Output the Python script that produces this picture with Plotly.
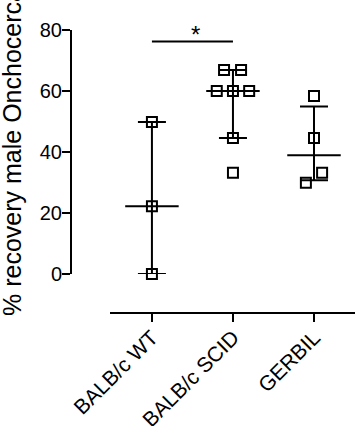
import plotly.graph_objects as go

# ---- data ----
groups = ["BALB/c WT", "BALB/c SCID", "GERBIL"]
wt_vals = [49.8, 22.2, 0.0]
scid_vals = [66.9, 66.9, 60.0, 60.0, 60.0, 44.6, 33.2]
gerbil_vals = [58.4, 44.6, 33.2, 29.9]
medians = [22.2, 60.0, 38.9]
q1 = [0.0, 44.6, 30.7]
q3 = [49.8, 66.9, 54.9]
y_ticks = [0, 20, 40, 60, 80]
sig_y = 76.2
y_title = "% recovery male Onchocerca"

# horizontal scatter (jitter) offsets seen in the picture, in category units
wt_dx = [0, 0, 0]
scid_dx = [-0.11, 0.1, -0.2, 0, 0.2, 0, 0]
gerbil_dx = [0, 0, 0.1, -0.1]

FONT = "Liberation Sans, Arial, Helvetica, sans-serif"
fig = go.Figure()

for i, (vals, dxs) in enumerate([(wt_vals, wt_dx), (scid_vals, scid_dx), (gerbil_vals, gerbil_dx)]):
    fig.add_trace(go.Scatter(
        x=[i + d for d in dxs], y=vals, mode="markers",
        marker=dict(symbol="square-open", size=10, color="black", line=dict(width=2, color="black")),
        cliponaxis=False, showlegend=False, hoverinfo="skip"))

fig.add_trace(go.Scatter(
    x=list(range(len(groups))), y=medians, mode="markers",
    marker=dict(size=1, color="rgba(0,0,0,0)"),
    error_y=dict(type="data", symmetric=False,
                 array=[h - m for h, m in zip(q3, medians)],
                 arrayminus=[m - l for m, l in zip(medians, q1)],
                 width=14, thickness=2, color="black"),
    error_x=dict(type="data", array=[0.33] * len(groups), width=0, thickness=2, color="black"),
    cliponaxis=False, showlegend=False, hoverinfo="skip"))

fig.add_shape(type="line", xref="x", yref="y", x0=0, x1=1, y0=sig_y, y1=sig_y,
              line=dict(color="black", width=2))
fig.add_annotation(x=0.54, y=78.6, xref="x", yref="y", text="*", showarrow=False,
                   font=dict(family=FONT, size=24, color="black"), xanchor="center", yanchor="middle")

fig.add_annotation(x=-0.2077, y=0.569, xref="paper", yref="paper", text=y_title,
                   textangle=-90, showarrow=False, xanchor="center", yanchor="middle",
                   font=dict(family=FONT, size=25, color="black"))

fig.update_layout(
    width=355, height=426,
    margin=dict(l=71, r=0, t=30, b=113, autoexpand=False),
    paper_bgcolor="white", plot_bgcolor="white",
    font=dict(family=FONT, size=19, color="black"),
    xaxis=dict(tickvals=list(range(len(groups))), ticktext=groups, range=[-0.5185, 2.506],
               domain=[0.137, 1], anchor="free", position=0, automargin=False,
               ticklabelstandoff=-5,
               showline=True, linewidth=2, linecolor="black",
               ticks="outside", ticklen=8, tickwidth=2, tickcolor="black",
               tickangle=-45, showgrid=False, zeroline=False,
               tickfont=dict(family=FONT, size=21, color="black")),
    yaxis=dict(range=[0, 80], tickvals=y_ticks, domain=[0.1378, 1], anchor="free", position=0,
               automargin=False, ticklabelstandoff=-4,
               showline=True, linewidth=2, linecolor="black",
               ticks="outside", ticklen=8, tickwidth=2, tickcolor="black",
               showgrid=False, zeroline=False,
               tickfont=dict(family=FONT, size=20, color="black")),
)

fig.write_html("out.html", config={"displayModeBar": False},
               post_script="document.body.style.margin='0';")
